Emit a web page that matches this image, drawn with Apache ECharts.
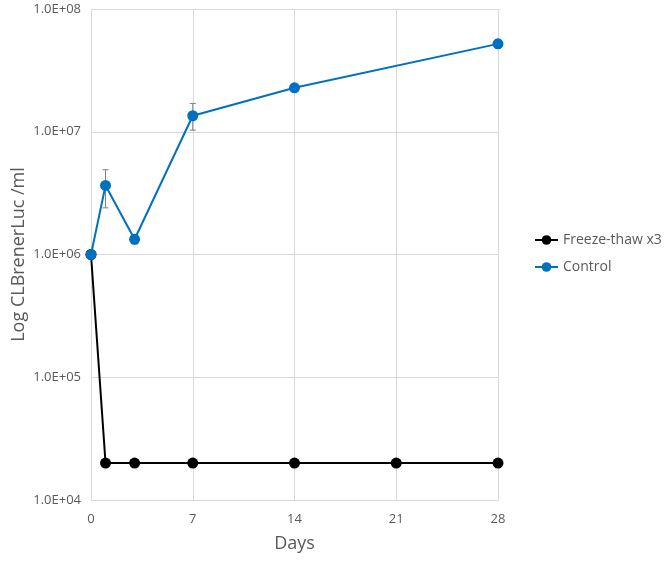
<!DOCTYPE html>
<html><head><meta charset="utf-8">
<script src="https://cdn.jsdelivr.net/npm/echarts@6/dist/echarts.min.js"></script>
<style>html,body{margin:0;padding:0;background:#fff}#c{width:666px;height:561px}</style>
</head><body><div id="c"></div>
<script>
const freezeDays = [0, 1, 3, 7, 14, 21, 28];
const freezeValues = [1.0e6, 2.0e4, 2.0e4, 2.0e4, 2.0e4, 2.0e4, 2.0e4];
const controlDays = [0, 1, 3, 7, 14, 28];
const controlValues = [1.0e6, 3.65e6, 1.33e6, 1.35e7, 2.28e7, 5.2e7];
const controlLow = [1.0e6, 2.4e6, 1.22e6, 1.03e7, 2.2e7, 4.8e7];
const controlHigh = [1.0e6, 4.9e6, 1.45e6, 1.7e7, 2.36e7, 5.6e7];
const xTicks = [0, 7, 14, 21, 28];
const yTicks = [1e4, 1e5, 1e6, 1e7, 1e8];

const font = 'Open Sans, Noto Sans, sans-serif';
const txt = '#595959';
const chart = echarts.init(document.getElementById('c'));
function fmt(v){
  const e = Math.round(Math.log10(v));
  const m = v / Math.pow(10, e);
  return m.toFixed(1) + 'E+' + (e < 10 ? '0' + e : e);
}
chart.setOption({
  animation: false,
  grid: {left: 91, right: 168, top: 9, bottom: 61, outerBoundsMode: 'none', containLabel: false},
  legend: {
    orient: 'vertical', left: 529, top: 228, itemGap: 13,
    itemWidth: 23, itemHeight: 12,
    textStyle: {color: txt, fontSize: 14, fontFamily: font},
    data: ['Freeze-thaw x3', 'Control']
  },
  xAxis: {
    type: 'value', min: 0, max: 28, interval: 7,
    name: 'Days', nameLocation: 'middle', nameGap: 35, nameMoveOverlap: false,
    nameTextStyle: {color: txt, fontSize: 18, fontFamily: font},
    axisLine: {show: true, lineStyle: {color: '#d9d9d9'}},
    axisTick: {show: false},
    axisLabel: {color: txt, fontSize: 13, fontFamily: font, margin: 13},
    splitLine: {show: true, lineStyle: {color: '#d9d9d9'}}
  },
  yAxis: {
    type: 'log', logBase: 10, min: 1e4, max: 1e8,
    name: 'Log CLBrenerLuc /ml', nameLocation: 'middle', nameGap: 63, nameMoveOverlap: false,
    nameTextStyle: {color: txt, fontSize: 18, fontFamily: font},
    axisLine: {show: false}, axisTick: {show: false},
    axisLabel: {color: txt, fontSize: 13, fontFamily: font, margin: 10, formatter: fmt},
    splitLine: {show: true, lineStyle: {color: '#d9d9d9'}}
  },
  series: [
    {
      name: 'ControlError', type: 'custom', z: 1,
      data: controlDays.map((d, i) => [d, controlLow[i], controlHigh[i]]),
      renderItem: function(params, api){
        const lo = api.coord([api.value(0), api.value(1)]);
        const hi = api.coord([api.value(0), api.value(2)]);
        const w = 3;
        const st = {stroke: '#7f7f7f', lineWidth: 1};
        return {type: 'group', children: [
          {type: 'line', shape: {x1: lo[0], y1: lo[1], x2: hi[0], y2: hi[1]}, style: st},
          {type: 'line', shape: {x1: lo[0]-w, y1: lo[1], x2: lo[0]+w, y2: lo[1]}, style: st},
          {type: 'line', shape: {x1: hi[0]-w, y1: hi[1], x2: hi[0]+w, y2: hi[1]}, style: st}
        ]};
      }
    },
    {
      name: 'Freeze-thaw x3', type: 'line', z: 2,
      data: freezeDays.map((d, i) => [d, freezeValues[i]]),
      symbol: 'circle', symbolSize: 11,
      lineStyle: {color: '#000', width: 2},
      itemStyle: {color: '#000'}
    },
    {
      name: 'Control', type: 'line', z: 3,
      data: controlDays.map((d, i) => [d, controlValues[i]]),
      symbol: 'circle', symbolSize: 11,
      lineStyle: {color: '#0070c0', width: 2},
      itemStyle: {color: '#0070c0'}
    }
  ]
});
</script></body></html>
